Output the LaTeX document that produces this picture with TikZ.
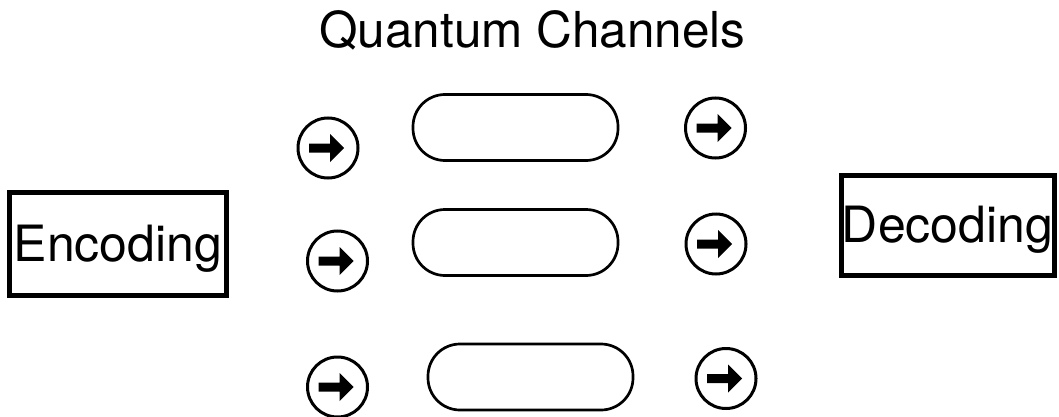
\documentclass[tikz,border=0pt]{standalone}
\usepackage{fontspec}
\setmainfont{TeX Gyre Heros}
\begin{document}
\begin{tikzpicture}[x=1pt,y=-1pt,
  bigtext/.style={font=\fontsize{50}{54}\selectfont, text height=35pt, text depth=0pt, inner sep=0pt},
  framebox/.style={draw, line width=5pt, inner sep=0pt, bigtext},
  channel/.style={draw, line width=2.7pt, rounded corners=32pt, minimum width=205pt, minimum height=66pt, inner sep=0pt},
  arrowcirc/.style={draw, circle, line width=3pt, minimum size=60pt, inner sep=0pt,
    path picture={
      \fill ([xshift=-19pt,yshift=-4.5pt]path picture bounding box.center)
        -- ++(21pt,0) -- ++(0,-9.5pt) -- ++(14pt,14pt) -- ++(-14pt,14pt) -- ++(0,-9.5pt)
        -- ++(-21pt,0) -- cycle;
    }}]
\useasboundingbox (0,0) rectangle (1059,417);

\node[bigtext, font=\fontsize{49.5}{54}\selectfont] (title) at (532.5,30) {Quantum Channels};

\node[framebox, minimum width=217pt, minimum height=103pt] (enc) at (118,243.5) {Encoding};
\node[framebox, minimum width=213pt, minimum height=100pt] (dec) at (947.5,225) {Decoding};

\node[channel] (ch1) at (515.5,127.5) {};
\node[channel] (ch2) at (515.5,242.5) {};
\node[channel] (ch3) at (530.5,377) {};

\node[arrowcirc] (in1) at (328,148) {};
\node[arrowcirc] (in2) at (337.5,261) {};
\node[arrowcirc] (in3) at (337.5,387) {};

\node[arrowcirc] (out1) at (715.5,128) {};
\node[arrowcirc] (out2) at (716,244) {};
\node[arrowcirc] (out3) at (726,378.5) {};
\end{tikzpicture}
\end{document}
